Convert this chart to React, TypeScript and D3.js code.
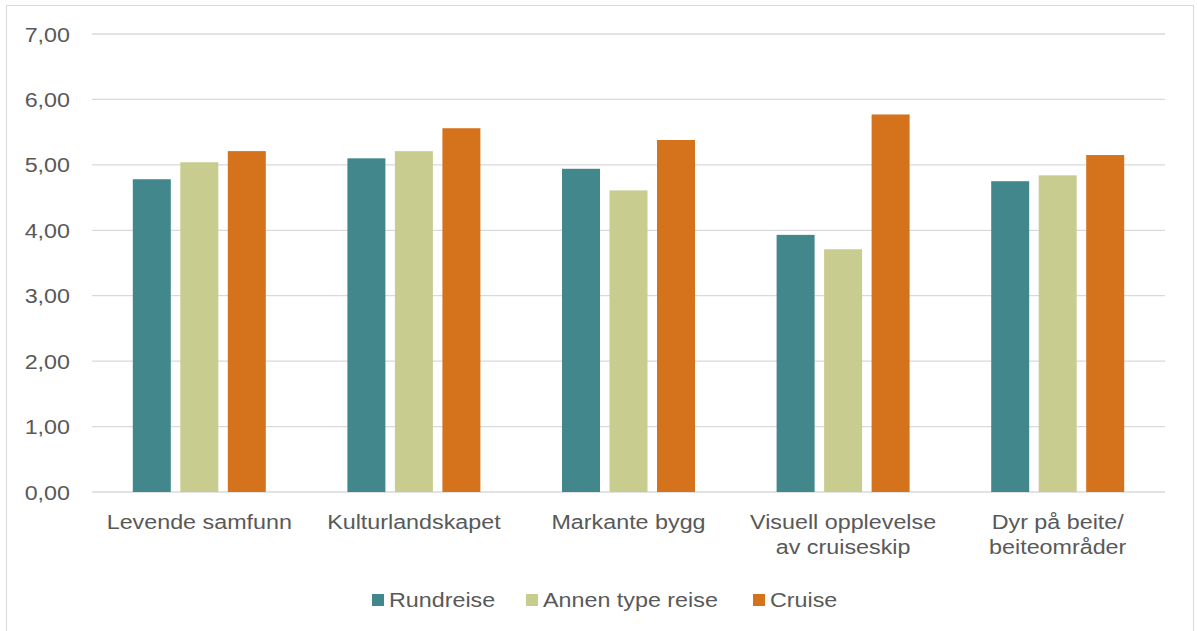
import React from "react";
import * as d3 from "d3";

const categories: string[][] = [
  ["Levende samfunn"],
  ["Kulturlandskapet"],
  ["Markante bygg"],
  ["Visuell opplevelse", "av cruiseskip"],
  ["Dyr på beite/", "beiteområder"],
];
const seriesNames = ["Rundreise", "Annen type reise", "Cruise"];
const rundreise = [4.78, 5.1, 4.94, 3.93, 4.75];
const annen = [5.04, 5.21, 4.61, 3.71, 4.84];
const cruise = [5.21, 5.56, 5.38, 5.77, 5.15];
const yTicks = [0, 1, 2, 3, 4, 5, 6, 7];
const colors = ["#41878B", "#C8CD8F", "#D4731C"];

const SX = 1.11;

function T(props: { x: number; y: number; anchor?: string; children: React.ReactNode }) {
  return (
    <text
      transform={`translate(${props.x},${props.y}) scale(${SX},1)`}
      textAnchor={props.anchor || "start"}
      fontFamily="Liberation Sans, Arial, sans-serif"
      fontSize={21}
      fill="#595959"
    >
      {props.children}
    </text>
  );
}

export default function App() {
  const W = 1197, H = 631;
  const left = 92, right = 1165, top = 34, bottom = 492;
  const x = d3.scaleBand<number>().domain(d3.range(categories.length)).range([left, right]);
  const y = d3.scaleLinear().domain([0, 7]).range([bottom, top]);
  const series = [rundreise, annen, cruise];
  const barW = 38, gap = 9.5;
  const fmt = (v: number) => v.toFixed(2).replace(".", ",");
  const legendX = [372, 526, 753];
  return (
    <svg width={W} height={H} style={{ position: "absolute", left: 0, top: 0 }}>
      <rect x={0} y={0} width={W} height={H} fill="#fff" />
      <rect x={6.5} y={5.5} width={1187} height={640} fill="none" stroke="#D9D9D9" strokeWidth={1} />
      {yTicks.map((t) => (
        <g key={t}>
          <line x1={left} x2={right} y1={y(t)} y2={y(t)} stroke="#D9D9D9" strokeWidth={1.3} />
          <T x={70} y={y(t) + 7.5} anchor="end">
            {fmt(t)}
          </T>
        </g>
      ))}
      {categories.map((c, i) => {
        const cx = (x(i) as number) + x.bandwidth() / 2;
        return (
          <g key={i}>
            {series.map((s, j) => {
              const bx = cx + (j - 1) * (barW + gap) - barW / 2;
              return (
                <rect key={j} x={bx} y={y(s[i])} width={barW} height={bottom - y(s[i])} fill={colors[j]} />
              );
            })}
            {c.map((line, k) => (
              <T key={k} x={cx} y={529 + k * 25} anchor="middle">
                {line}
              </T>
            ))}
          </g>
        );
      })}
      {seriesNames.map((n, j) => (
        <g key={n}>
          <rect x={legendX[j]} y={594} width={12} height={12} fill={colors[j]} />
          <T x={legendX[j] + 17} y={607}>
            {n}
          </T>
        </g>
      ))}
    </svg>
  );
}
